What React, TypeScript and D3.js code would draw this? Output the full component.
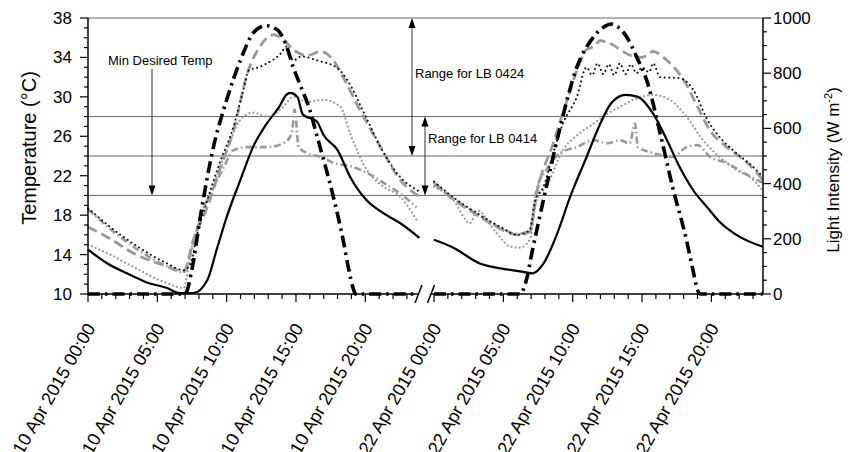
import * as d3 from "d3";

type Pt = [number, number];

// hours since midnight -> value
const dayLabels = ["10 Apr 2015", "22 Apr 2015"];
const timeLabels = ["00:00", "05:00", "10:00", "15:00", "20:00"];
const tempTickLabels = [10, 14, 18, 22, 26, 30, 34, 38];
const lightTickLabels = [0, 200, 400, 600, 800, 1000];
const refTemps = [38, 28, 24, 20];

const lightDay1: Pt[] = [[0, 0], [7.0, 0], [7.5, 90], [8.1, 279], [9.0, 522], [10.0, 703], [11.0, 848], [11.9, 945], [12.4, 966], [12.9, 972], [13.4, 964], [13.8, 950], [14.3, 900], [14.8, 822], [15.4, 745], [16.0, 667], [16.5, 575], [17.0, 485], [17.7, 351], [18.4, 196], [18.8, 90], [19.1, 25], [19.3, 0], [23.8, 0]];
const lightDay2: Pt[] = [[0, 0], [6.2, 0], [6.6, 40], [7.1, 159], [8.1, 388], [9.1, 605], [10.3, 822], [11.5, 931], [12.2, 966], [12.8, 978], [13.3, 966], [13.9, 931], [14.6, 860], [15.4, 764], [16.3, 583], [17.2, 388], [18.2, 196], [18.7, 80], [19.0, 14], [19.2, 0], [23.7, 0]];

const solidDay1: Pt[] = [[0, 14.5], [1.4, 13.1], [2.8, 12.1], [4.2, 11.2], [5.7, 10.6], [6.6, 10.1], [7.6, 10.1], [8.6, 11.4], [9.3, 14.6], [10.0, 17.8], [11.0, 21.6], [11.9, 24.9], [12.9, 27.3], [13.8, 29.0], [14.3, 30.2], [14.6, 30.4], [15.1, 30.0], [15.5, 28.2], [16.5, 27.5], [17.0, 26.1], [18.0, 24.6], [18.9, 21.9], [20.1, 19.5], [21.3, 18.2], [22.5, 17.2], [23.9, 15.7]];
const solidDay2: Pt[] = [[0, 15.5], [1.4, 14.7], [3.3, 13.1], [4.8, 12.6], [6.2, 12.3], [7.1, 12.1], [7.9, 13.1], [8.9, 16.2], [9.8, 19.8], [11.0, 23.9], [11.9, 27.0], [12.8, 29.4], [13.8, 30.2], [14.7, 30.0], [15.8, 28.3], [16.8, 25.6], [17.7, 22.9], [18.7, 20.5], [19.7, 18.8], [20.6, 17.3], [21.8, 16.0], [23.7, 14.8]];

const blackDotDay1: Pt[] = [[0, 18.7], [1.6, 16.8], [3.7, 14.7], [5.7, 13.1], [6.9, 12.4], [7.4, 13.1], [7.9, 16.2], [8.6, 19.5], [9.5, 23.3], [10.5, 27.0], [11.2, 30.7], [11.6, 32.7], [12.3, 33.0], [12.9, 33.4], [13.9, 34.4], [14.3, 35.1], [14.8, 33.7], [15.4, 34.1], [16.5, 33.7], [18.0, 32.9], [18.7, 31.7], [19.9, 28.4], [21.1, 24.9], [22.5, 21.9], [23.9, 20.4]];
const blackDotDay2: Pt[] = [[0, 21.4], [1.4, 19.8], [3.1, 18.2], [4.8, 16.8], [6.0, 16.0], [6.9, 16.5], [7.3, 19.5], [7.9, 20.9], [8.6, 24.3], [9.3, 27.3], [10.3, 30.0], [11.0, 33.0], [11.4, 32.2], [11.8, 33.4], [12.2, 32.3], [12.6, 33.3], [13.0, 32.2], [13.4, 33.4], [13.8, 32.3], [14.2, 33.3], [14.6, 32.4], [15.0, 33.0], [15.5, 32.5], [15.8, 33.4], [16.3, 32.0], [17.7, 31.9], [18.7, 30.7], [19.7, 27.7], [20.6, 25.9], [21.8, 24.3], [23.0, 22.9], [23.7, 21.9]];

const grayDashDay1: Pt[] = [[0, 16.8], [1.6, 15.6], [3.2, 14.2], [5.7, 12.8], [6.9, 12.3], [7.6, 15.5], [8.6, 18.8], [9.5, 22.6], [10.5, 26.6], [11.5, 32.4], [12.4, 35.1], [13.4, 36.3], [14.1, 35.8], [14.8, 34.8], [15.8, 34.2], [16.8, 34.6], [17.7, 33.7], [18.4, 32.0], [19.6, 28.7], [21.1, 24.9], [22.5, 21.6], [23.9, 19.9]];
const grayDashDay2: Pt[] = [[0, 21.2], [1.4, 19.6], [3.1, 18.0], [4.8, 16.6], [6.0, 16.0], [6.9, 16.3], [7.4, 20.2], [8.6, 25.3], [9.6, 29.7], [10.5, 33.4], [11.0, 34.8], [11.5, 35.1], [12.0, 35.7], [12.5, 35.5], [13.0, 35.2], [13.4, 34.8], [14.4, 34.1], [15.0, 34.0], [15.8, 34.6], [16.8, 33.7], [18.0, 31.7], [19.0, 29.0], [19.9, 26.6], [21.1, 24.9], [22.6, 23.3], [23.7, 21.6]];

const grayDotDay1: Pt[] = [[0, 15.0], [1.6, 14.0], [3.2, 12.8], [5.7, 11.1], [6.9, 10.6], [7.4, 14.2], [8.1, 17.8], [9.0, 20.9], [10.0, 24.6], [11.0, 27.7], [11.9, 28.4], [12.9, 28.0], [14.1, 29.0], [14.8, 30.0], [15.8, 29.5], [17.0, 29.7], [18.2, 29.0], [18.9, 26.3], [20.1, 22.6], [21.3, 20.9], [22.5, 19.9], [23.7, 17.5]];
const grayDotDay2: Pt[] = [[0, 20.9], [1.4, 19.5], [2.6, 17.2], [3.1, 18.5], [4.5, 16.2], [5.5, 14.8], [6.2, 14.7], [6.9, 15.5], [7.4, 19.5], [8.1, 20.9], [9.3, 24.6], [10.5, 26.3], [11.5, 27.3], [12.5, 28.3], [13.4, 29.0], [14.4, 29.7], [15.8, 30.2], [17.0, 29.7], [18.2, 28.0], [19.4, 25.6], [20.6, 23.9], [21.8, 22.6], [23.0, 21.6], [23.7, 20.5]];

const grayDashDotDay1: Pt[] = [[0, 18.6], [1.6, 16.6], [3.7, 14.4], [5.7, 12.8], [6.9, 12.2], [7.5, 14.5], [8.1, 17.8], [9.0, 20.6], [9.8, 22.9], [10.5, 24.6], [11.5, 24.9], [12.9, 24.9], [14.1, 25.3], [14.7, 26.3], [14.9, 28.7], [15.2, 24.9], [15.8, 24.3], [16.8, 23.9], [17.7, 23.3], [19.1, 22.9], [20.1, 22.3], [21.3, 21.3], [22.5, 20.2], [23.7, 18.8]];
const grayDashDotDay2: Pt[] = [[0, 21.3], [1.4, 19.7], [3.1, 18.1], [4.8, 16.7], [6.0, 16.1], [6.9, 16.4], [7.4, 20.6], [8.1, 22.6], [9.1, 24.3], [10.3, 24.9], [11.5, 25.6], [12.5, 25.3], [13.4, 25.6], [14.1, 25.3], [14.5, 27.3], [14.7, 24.9], [15.8, 24.3], [17.2, 23.9], [18.2, 24.9], [19.0, 25.1], [19.9, 23.9], [21.1, 23.3], [22.3, 22.3], [23.7, 21.3]];

const FONT = "'Liberation Sans', Arial, sans-serif";

export default function App() {
  const left = 88, right = 763, top = 18, bottom = 294;

  const yT = d3.scaleLinear().domain([10, 38]).range([bottom, top]);
  const yL = d3.scaleLinear().domain([0, 1000]).range([bottom, top]);
  // broken time axis: two days side by side
  const x1 = d3.scaleLinear().domain([0, 23.8]).range([left, 418]);
  const x2 = d3.scaleLinear().domain([0, 23.72]).range([434, right]);
  const days = [x1, x2];

  const path = (xs: d3.ScaleLinear<number, number>, ys: d3.ScaleLinear<number, number>, d: Pt[]) =>
    d3.line<Pt>().x((p) => xs(p[0])).y((p) => ys(p[1])).curve(d3.curveMonotoneX)(d) || "";

  const series = [
    { d: [grayDotDay1, grayDotDay2], y: yT, stroke: "#9c9c9c", w: 2.2, dash: "0.1 4", cap: "round" },
    { d: [grayDashDotDay1, grayDashDotDay2], y: yT, stroke: "#999", w: 2.6, dash: "7 3 1.5 3", cap: "butt" },
    { d: [grayDashDay1, grayDashDay2], y: yT, stroke: "#9a9a9a", w: 2.8, dash: "10 5", cap: "butt" },
    { d: [blackDotDay1, blackDotDay2], y: yT, stroke: "#111", w: 2.0, dash: "0.1 4.5", cap: "round" },
    { d: [solidDay1, solidDay2], y: yT, stroke: "#000", w: 2.2, dash: "none", cap: "butt" },
    { d: [lightDay1, lightDay2], y: yL, stroke: "#000", w: 3.6, dash: "12 5 2.5 5", cap: "butt" },
  ];

  const tempMinor = d3.range(10, 39, 1);
  const lightMinor = d3.range(0, 1001, 50);
  const hourTicks = d3.range(0, 24, 1);

  const arrowDown = (x: number, y: number) => `${x - 3.5},${y - 10} ${x + 3.5},${y - 10} ${x},${y}`;
  const arrowUp = (x: number, y: number) => `${x - 3.5},${y + 10} ${x + 3.5},${y + 10} ${x},${y}`;

  return (
    <svg width={856} height={452} style={{ position: "absolute", left: 0, top: 0, background: "#fff" }} fontFamily={FONT}>
      {/* reference temperature lines */}
      {refTemps.map((t) => (
        <line key={t} x1={left} x2={right} y1={yT(t)} y2={yT(t)} stroke="#666" strokeWidth={1} />
      ))}

      {/* series */}
      {series.map((s, i) =>
        s.d.map((d, j) => (
          <path key={`${i}-${j}`} d={path(days[j], s.y, d)} fill="none" stroke={s.stroke} strokeWidth={s.w}
            strokeDasharray={s.dash} strokeLinecap={s.cap as any} strokeLinejoin="round" />
        ))
      )}

      {/* left axis */}
      <line x1={left} x2={left} y1={top} y2={bottom} stroke="#000" strokeWidth={1.5} />
      {tempMinor.map((t) => (
        <line key={t} x1={left} x2={left - ((t - 10) % 4 === 0 ? 8 : 4)} y1={yT(t)} y2={yT(t)} stroke="#000" strokeWidth={1.2} />
      ))}
      {tempTickLabels.map((t) => (
        <text key={t} x={left - 16} y={yT(t)} dy="0.35em" textAnchor="end" fontSize={17}>{t}</text>
      ))}
      <text transform={`translate(36,148) rotate(-90)`} textAnchor="middle" fontSize={20}>Temperature (°C)</text>

      {/* right axis */}
      <line x1={right} x2={right} y1={top} y2={bottom} stroke="#000" strokeWidth={1.5} />
      {lightMinor.map((v) => (
        <line key={v} x1={right} x2={right + (v % 200 === 0 ? 8 : 4)} y1={yL(v)} y2={yL(v)} stroke="#000" strokeWidth={1.2} />
      ))}
      {lightTickLabels.map((v) => (
        <text key={v} x={right + 10} y={yL(v)} dy="0.35em" textAnchor="start" fontSize={17}>{v}</text>
      ))}
      <text transform={`translate(839,170) rotate(-90)`} textAnchor="middle" fontSize={17}>
        Light Intensity (W m<tspan fontSize={11} dy={-7}>-2</tspan><tspan dy={7}>)</tspan>
      </text>

      {/* bottom axis with break */}
      <line x1={left} x2={418.5} y1={bottom} y2={bottom} stroke="#000" strokeWidth={1.5} />
      <line x1={431} x2={right} y1={bottom} y2={bottom} stroke="#000" strokeWidth={1.5} />
      <line x1={415} y1={303} x2={422} y2={285} stroke="#000" strokeWidth={1.5} />
      <line x1={427.5} y1={303} x2={434.5} y2={285} stroke="#000" strokeWidth={1.5} />
      {days.map((xs, j) =>
        hourTicks.map((h) => (
          <line key={`${j}-${h}`} x1={xs(h)} x2={xs(h)} y1={bottom} y2={bottom + (h % 5 === 0 ? 8 : 5)} stroke="#000" strokeWidth={1.2} />
        ))
      )}
      {days.map((xs, j) =>
        timeLabels.map((t, k) => (
          <text key={`${j}-${t}`} transform={`translate(${xs(k * 5) + 8},${bottom + 34}) rotate(-60)`} textAnchor="end" fontSize={18}>
            {`${dayLabels[j]} ${t}`}
          </text>
        ))
      )}

      {/* annotations */}
      <text x={108} y={65} fontSize={13}>Min Desired Temp</text>
      <line x1={152} x2={152} y1={69} y2={yT(20) - 8} stroke="#333" strokeWidth={1} />
      <polygon points={arrowDown(152, yT(20))} fill="#000" />

      <text x={415} y={78} fontSize={13}>Range for LB 0424</text>
      <line x1={412} x2={412} y1={yT(38) + 8} y2={yT(24) - 8} stroke="#333" strokeWidth={1} />
      <polygon points={arrowUp(412, yT(38))} fill="#000" />
      <polygon points={arrowDown(412, yT(24))} fill="#000" />

      <text x={428} y={143} fontSize={13}>Range for LB 0414</text>
      <line x1={425} x2={425} y1={yT(28) + 8} y2={yT(20) - 8} stroke="#333" strokeWidth={1} />
      <polygon points={arrowUp(425, yT(28))} fill="#000" />
      <polygon points={arrowDown(425, yT(20))} fill="#000" />
    </svg>
  );
}
